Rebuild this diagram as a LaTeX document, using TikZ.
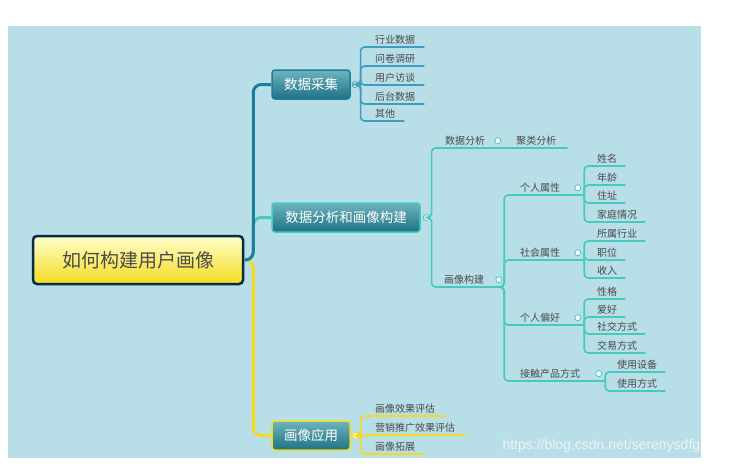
\documentclass[tikz,border=0pt]{standalone}
\usepackage{fontspec}
\newfontfamily\cjk{Noto Sans CJK SC}
\setsansfont{Liberation Sans}
\usetikzlibrary{positioning, calc}

\definecolor{bgblue}{HTML}{B8DEE7}
\definecolor{deepteal}{HTML}{1B7F9C}
\definecolor{aqua}{HTML}{45CABE}
\definecolor{sun}{HTML}{F4DB1E}
\definecolor{steel}{HTML}{3F9BBF}
\definecolor{boxtop}{HTML}{6DB3BE}
\definecolor{boxbot}{HTML}{1E7285}
\definecolor{navy}{HTML}{0B2B45}
\definecolor{leafgray}{HTML}{4A4A4A}
\definecolor{wmark}{HTML}{EEF3F5}

\tikzset{
  rootbox/.style={draw=navy, line width=2.5pt, rounded corners=4pt, top color=yellow!20!white, bottom color=sun,
    minimum width=210pt, minimum height=48pt, text=leafgray, font=\cjk\fontsize{19}{21}\selectfont},
  topicbox/.style={draw=#1, line width=1.5pt, rounded corners=3pt, top color=boxtop, bottom color=boxbot,
    text=white, minimum height=29pt, font=\cjk\fontsize{13.5}{15}\selectfont},
  leaf/.style={anchor=south west, inner xsep=0pt, inner ysep=2.5pt, text=leafgray, font=\cjk\fontsize{10}{12}\selectfont},
  knob/.style={circle, draw=#1, fill=white, line width=0.8pt, inner sep=0pt, minimum size=6pt},
  twig/.style={draw=#1, line width=1.6pt, rounded corners=4pt},
  trunk/.style={draw=#1, line width=3pt, rounded corners=8pt},
}

\begin{document}
\begin{tikzpicture}[x=1pt, y=-1pt]
  \useasboundingbox (0,0) rectangle (731,466);
  \fill[bgblue] (8,26) rectangle (701,458);

  % centre and main topics
  \node[rootbox] (root) at (138,260) {如何构建用户画像};
  \node[topicbox=deepteal, minimum width=78pt] (collect) at (311,84.5) {数据采集};
  \node[topicbox=aqua, minimum width=148pt] (analyse) at (346,217.5) {数据分析和画像构建};
  \node[topicbox=sun, minimum width=78pt] (apply) at (311,435.5) {画像应用};

  \draw[trunk=sun] (root.east) -- ++(9,0) |- (apply.west);
  \draw[trunk=aqua] (root.east) -- ++(9,0) |- (analyse.west);
  \draw[trunk=deepteal] (root.east) -- ++(9,0) |- (collect.west);

  % 数据采集
  \node[knob=steel, right=1pt of collect] (collect-o) {};
  \node[leaf] (c1) at (375,47) {行业数据};
  \node[leaf] (c2) at (375,66) {问卷调研};
  \node[leaf] (c3) at (375,85) {用户访谈};
  \node[leaf] (c4) at (375,104) {后台数据};
  \node[leaf] (c5) at (375,121) {其他};
  \foreach \k in {c1,c2,c3,c4,c5}
    \draw[twig=steel] (collect-o.east) -- ++(2,0) |- (\k.south west) -- ([xshift=9pt]\k.south east);

  % 数据分析和画像构建
  \node[knob=aqua, right=2pt of analyse] (analyse-o) {};
  \node[leaf] (da) at (445,148) {数据分析};
  \node[knob=aqua, right=9pt of da] (da-o) {};
  \node[leaf, right=15pt of da-o] (cluster) {聚类分析};
  \node[leaf] (build) at (444,287) {画像构建};
  \node[knob=aqua, right=11pt of build] (build-o) {};
  \draw[twig=aqua] (analyse-o.east) -- ++(2,0) |- (da.south west) -- ([xshift=11pt]cluster.south east);
  \draw[twig=aqua] (analyse-o.east) -- ++(2,0) |- (build.south west);
  \coordinate (build-v) at ($(build-o.east)+(2,0)$);

  % 画像构建
  \node[leaf] (p1) at (520,195) {个人属性};
  \node[leaf] (p2) at (520,260) {社会属性};
  \node[leaf] (p3) at (520,325) {个人偏好};
  \node[leaf] (p4) at (520,381) {接触产品方式};
  \node[knob=aqua, right=14pt of p1] (p1-o) {};
  \node[knob=aqua, right=14pt of p2] (p2-o) {};
  \node[knob=aqua, right=14pt of p3] (p3-o) {};
  \node[knob=aqua, right=15pt of p4] (p4-o) {};
  \foreach \p in {p1,p2,p3,p4}{
    \coordinate (\p-v) at ($(\p-o.east)+(3,0)$);
    \draw[twig=aqua] (build.south west) -- (build-v |- build.south) |- (\p.south west) -- (\p-v |- \p.south);
  }

  \node[leaf] (q1) at (597,166) {姓名};
  \node[leaf] (q2) at (597,185) {年龄};
  \node[leaf] (q3) at (597,203) {住址};
  \node[leaf] (q4) at (597,222) {家庭情况};
  \foreach \k in {q1,q2,q3,q4}
    \draw[twig=aqua] (p1-v |- p1.south) |- (\k.south west) -- ([xshift=8pt]\k.south east);

  \node[leaf] (s1) at (597,241) {所属行业};
  \node[leaf] (s2) at (597,260) {职位};
  \node[leaf] (s3) at (597,278) {收入};
  \foreach \k in {s1,s2,s3}
    \draw[twig=aqua] (p2-v |- p2.south) |- (\k.south west) -- ([xshift=8pt]\k.south east);

  \node[leaf] (h1) at (597,299) {性格};
  \node[leaf] (h2) at (597,317) {爱好};
  \node[leaf] (h3) at (597,334) {社交方式};
  \node[leaf] (h4) at (597,353) {交易方式};
  \foreach \k in {h1,h2,h3,h4}
    \draw[twig=aqua] (p3-v |- p3.south) |- (\k.south west) -- ([xshift=8pt]\k.south east);

  \node[leaf] (u1) at (617,372) {使用设备};
  \node[leaf] (u2) at (617,391) {使用方式};
  \foreach \k in {u1,u2}
    \draw[twig=aqua] (p4-v |- p4.south) |- (\k.south west) -- ([xshift=8pt]\k.south east);

  % 画像应用
  \node[knob=sun, right=1pt of apply] (apply-o) {};
  \node[leaf] (a1) at (375,416) {画像效果评估};
  \node[leaf] (a2) at (375,435) {营销推广效果评估};
  \node[leaf] (a3) at (375,454) {画像拓展};
  \foreach \k in {a1,a2,a3}
    \draw[twig=sun] (apply-o.east) -- ++(2,0) |- (\k.south west) -- ([xshift=10pt]\k.south east);

  \node[font=\sffamily\fontsize{14}{16}\selectfont, text=wmark, anchor=west] (wm) at (499,446) {https://blog.csdn.net/serenysdfg};
\end{tikzpicture}
\end{document}
